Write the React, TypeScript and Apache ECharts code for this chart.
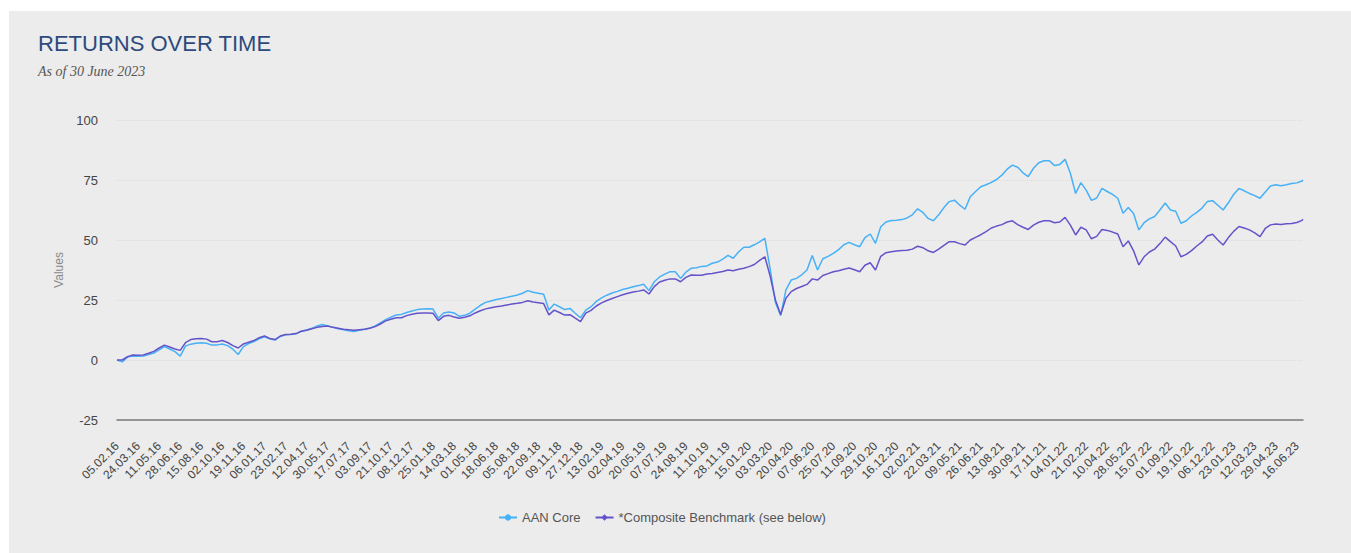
import React, { useEffect, useRef } from "react";
import * as echarts from "echarts";

// Daily date range shown on the category axis (dd.mm.yy)
const START_DATE = "2016-02-05";
const END_DATE = "2023-06-30";

function buildDailyCategories(start: string, end: string): string[] {
  const out: string[] = [];
  const d = new Date(start + "T00:00:00Z");
  const stop = new Date(end + "T00:00:00Z");
  while (d.getTime() <= stop.getTime()) {
    const dd = String(d.getUTCDate()).padStart(2, "0");
    const mm = String(d.getUTCMonth() + 1).padStart(2, "0");
    const yy = String(d.getUTCFullYear() % 100).padStart(2, "0");
    out.push(`${dd}.${mm}.${yy}`);
    d.setUTCDate(d.getUTCDate() + 1);
  }
  return out;
}

const categories = buildDailyCategories(START_DATE, END_DATE);

// Values sampled every 12 days, last entry is the final day of the range
const SAMPLE_STEP = 12;

const coreValues = [
  0, -0.8, 1.2, 1.7, 1.6, 1.7, 2.3, 2.9, 4.2, 5.6,
  4.6, 3.5, 1.6, 5.8, 6.6, 7.0, 7.2, 7.0, 6.2, 6.3,
  6.7, 6.0, 4.5, 2.3, 5.6, 6.8, 7.7, 8.8, 9.7, 8.8,
  8.3, 9.8, 10.5, 10.6, 10.9, 12.0, 12.5, 13.2, 14.2, 14.8,
  14.2, 13.6, 13.0, 12.6, 12.2, 11.9, 12.4, 12.8, 13.3, 14.2,
  15.5, 16.8, 17.8, 18.8, 19.0, 19.8, 20.4, 21.0, 21.2, 21.4,
  21.2, 17.4, 19.6, 20.0, 19.6, 18.2, 18.6, 19.5, 21.2, 22.8,
  24.0, 24.6, 25.2, 25.6, 26.1, 26.6, 27.1, 27.8, 28.9, 28.2,
  27.8, 27.4, 20.8, 23.3, 22.2, 21.0, 21.5, 19.5, 17.6, 20.8,
  22.2, 24.4, 25.9, 27.0, 27.9, 28.6, 29.4, 29.9, 30.5, 31.0,
  31.6, 28.9, 32.6, 34.6, 35.8, 36.8, 36.8, 34.0, 36.6, 38.2,
  38.4, 39.0, 39.2, 40.3, 40.8, 42.0, 43.6, 42.4, 45.0, 47.0,
  47.0, 48.0, 49.2, 50.7, 38.0, 24.0, 18.5, 29.2, 33.3, 34.0,
  35.5, 37.5, 43.5, 37.5, 42.2, 43.2, 44.4, 46.0, 48.0, 49.0,
  48.0, 47.2, 51.0, 52.5, 48.6, 55.5, 57.5, 58.1, 58.2, 58.5,
  59.2, 60.5, 63.0, 61.5, 59.0, 58.0, 60.5, 63.5, 66.0, 66.6,
  64.5, 62.8, 68.0, 70.2, 72.2, 73.0, 74.0, 75.2, 77.0, 79.5,
  81.2, 80.3, 78.0, 76.4, 79.9, 82.2, 83.0, 83.0, 81.0, 81.5,
  83.6, 77.8, 69.4, 73.9, 70.8, 66.5, 67.5, 71.5, 70.2, 69.0,
  67.4, 61.1, 63.5, 61.0, 54.2, 57.2, 58.8, 59.8, 62.5, 65.4,
  62.5, 62.0, 57.0, 58.0, 60.0, 61.5, 63.3, 66.0, 66.4, 64.5,
  62.5, 65.5, 69.0, 71.5, 70.5, 69.4, 68.5, 67.4, 70.0, 72.5,
  73.0, 72.6, 73.0, 73.5, 73.8, 74.6, 75.0,
];

const benchValues = [
  0, 0, 1.4, 2.1, 2.0, 2.1, 2.8, 3.6, 5.0, 6.2,
  5.4, 4.6, 4.0, 7.2, 8.5, 8.9, 9.0, 8.7, 7.6, 7.6,
  8.1, 7.3, 6.0, 5.0, 6.7, 7.4, 8.1, 9.3, 10.0, 9.0,
  8.5, 10.0, 10.6, 10.7, 11.0, 12.0, 12.4, 13.0, 13.6, 14.0,
  14.2, 13.6, 13.2, 12.8, 12.6, 12.4, 12.6, 12.8, 13.2, 13.9,
  15.0, 16.3, 17.0, 17.6, 17.6, 18.5, 19.1, 19.5, 19.6, 19.6,
  19.5, 16.4, 18.2, 18.6, 17.9, 17.4, 17.8, 18.4, 19.6, 20.5,
  21.3, 21.8, 22.2, 22.5, 22.9, 23.3, 23.6, 24.0, 24.7, 24.2,
  23.9, 23.5, 18.8, 20.8, 19.8, 18.7, 18.9, 17.4, 16.0, 19.5,
  20.7, 22.5, 23.8, 24.8, 25.6, 26.4, 27.2, 27.8, 28.3, 28.7,
  29.2, 27.5, 30.6, 32.5, 33.2, 33.8, 33.8, 32.6, 34.4, 35.4,
  35.3, 35.3, 35.8, 36.0, 36.5, 36.9, 37.5, 37.2, 37.8, 38.2,
  38.9, 39.8, 41.5, 43.0, 35.0, 25.0, 19.0, 25.7, 28.5, 29.8,
  30.6, 31.5, 33.8, 33.3, 35.2, 36.0, 36.8, 37.2, 37.8, 38.3,
  37.6, 36.8, 39.5, 40.5, 37.5, 43.2, 44.7, 45.1, 45.4, 45.6,
  45.7, 46.2, 47.4, 46.8, 45.5, 44.8, 46.2, 47.8, 49.3, 49.3,
  48.5, 47.9, 50.0, 51.1, 52.2, 53.5, 55.0, 55.8, 56.4, 57.5,
  58.0, 56.4, 55.3, 54.4, 56.2, 57.4, 58.0, 58.0, 57.2, 57.5,
  59.4, 56.2, 52.1, 55.3, 54.2, 50.5, 51.5, 54.4, 54.0, 53.3,
  52.5, 47.2, 49.6, 45.5, 39.6, 43.0, 45.0, 46.2, 48.5, 51.2,
  49.3, 47.5, 43.0, 44.0, 45.6, 47.5, 49.2, 51.7, 52.4, 50.0,
  47.9, 51.0, 53.6, 55.6, 55.0, 54.2, 53.0, 51.4, 54.8, 56.3,
  56.7, 56.5, 56.8, 56.9, 57.3, 58.2, 58.6,
];

const sampleDates = coreValues.map((_, i) =>
  i < coreValues.length - 1
    ? categories[i * SAMPLE_STEP]
    : categories[categories.length - 1]
);

const SERIES_NAMES = ["AAN Core", "*Composite Benchmark (see below)"];
const Y_MIN = -25;
const Y_MAX = 100;
const Y_STEP = 25;

export default function App() {
  const ref = useRef<HTMLDivElement>(null);

  useEffect(() => {
    if (!ref.current) return;
    const chart = echarts.init(ref.current, undefined, { renderer: "svg" });
    chart.setOption({
      animation: false,
      backgroundColor: "#ececec",
      title: {
        text: "RETURNS OVER TIME",
        subtext: "As of 30 June 2023",
        left: 24,
        top: 16,
        itemGap: 10,
        textStyle: {
          fontFamily: "Liberation Sans, Arial, sans-serif",
          fontSize: 22,
          fontWeight: "normal",
          color: "#2c4a7c",
        },
        subtextStyle: {
          fontFamily: "Liberation Serif, serif",
          fontStyle: "italic",
          fontSize: 14,
          color: "#555555",
        },
      },
      legend: {
        bottom: 24,
        left: 484,
        itemWidth: 18,
        itemHeight: 8,
        itemGap: 14,
        textStyle: {
          fontFamily: "Liberation Sans, Arial, sans-serif",
          fontSize: 13,
          color: "#555555",
        },
        data: SERIES_NAMES,
      },
      grid: { left: 108, right: 48, top: 109, bottom: 133 },
      xAxis: {
        type: "category",
        data: categories,
        boundaryGap: false,
        axisLine: {
          onZero: false,
          lineStyle: { color: "#7a7a7a", width: 1.5 },
        },
        axisTick: { show: false },
        axisLabel: {
          interval: 47,
          rotate: 45,
          margin: 24,
          fontFamily: "Liberation Sans, Arial, sans-serif",
          fontSize: 12,
          color: "#444444",
        },
        splitLine: { show: false },
      },
      yAxis: {
        type: "value",
        min: Y_MIN,
        max: Y_MAX,
        interval: Y_STEP,
        name: "Values",
        nameLocation: "middle",
        nameGap: 48,
        nameTextStyle: {
          fontFamily: "Liberation Sans, Arial, sans-serif",
          fontSize: 12,
          color: "#888888",
        },
        axisLine: { show: false },
        axisTick: { show: false },
        axisLabel: {
          margin: 19,
          fontFamily: "Liberation Sans, Arial, sans-serif",
          fontSize: 13,
          color: "#444444",
        },
        splitLine: {
          lineStyle: { color: "#dcdcdc", type: "dotted", width: 1 },
        },
      },
      series: [
        {
          name: SERIES_NAMES[0],
          type: "line",
          data: sampleDates.map((d, i) => [d, coreValues[i]]),
          showSymbol: false,
          symbol: "circle",
          symbolSize: 8,
          color: "#46b1f7",
          lineStyle: { width: 1.5, color: "#46b1f7" },
          z: 2,
        },
        {
          name: SERIES_NAMES[1],
          type: "line",
          data: sampleDates.map((d, i) => [d, benchValues[i]]),
          showSymbol: false,
          symbol: "diamond",
          symbolSize: 8,
          color: "#6454c9",
          lineStyle: { width: 1.5, color: "#6454c9" },
          z: 3,
        },
      ],
    });
    return () => chart.dispose();
  }, []);

  return (
    <div
      ref={ref}
      style={{
        position: "absolute",
        left: 9,
        top: 11,
        width: 1342,
        height: 542,
      }}
    />
  );
}
